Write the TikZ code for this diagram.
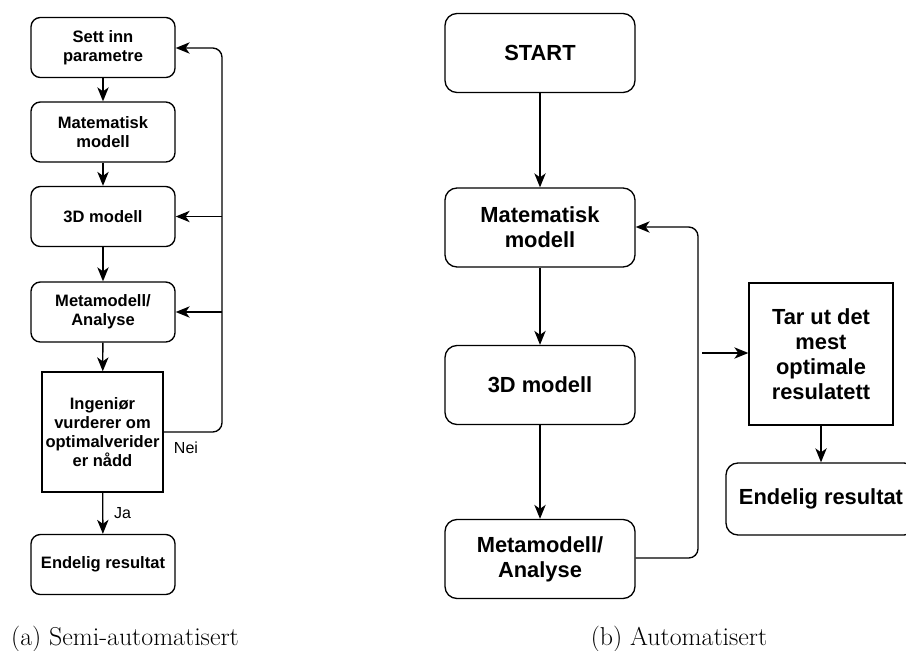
\documentclass[tikz,border=0pt]{standalone}
\usepackage{fontspec}
\setmainfont{Latin Modern Roman}
\newfontfamily\boxfont{Liberation Sans}
\usetikzlibrary{arrows.meta}

\tikzset{
  lbox/.style={draw, line width=1pt, rounded corners=7pt, minimum width=144*0.75pt,
    minimum height=60*0.75pt, align=center, inner sep=0pt,
    font=\boxfont\bfseries\fontsize{12.4}{14.2}\selectfont},
  lsq/.style={lbox, sharp corners, minimum width=121*0.75pt, minimum height=120*0.75pt},
  rbox/.style={draw, line width=1pt, rounded corners=9pt, minimum width=190*0.75pt,
    minimum height=79*0.75pt, align=center, inner sep=0pt,
    font=\boxfont\bfseries\fontsize{16.4}{18.6}\selectfont},
  rsq/.style={rbox, sharp corners, minimum width=144*0.75pt, minimum height=142*0.75pt},
  flow/.style={line width=1pt, -{Stealth[length=10.5pt, width=8.5pt, inset=3pt]}},
  link/.style={line width=1pt, rounded corners=7pt},
  lbl/.style={font=\boxfont\fontsize{12}{14}\selectfont, inner sep=0pt},
  subcap/.style={font=\fontsize{19.4}{21}\selectfont, anchor=base, inner sep=0pt}
}

\begin{document}
\begin{tikzpicture}[x=0.75pt, y=-0.75pt]
  \useasboundingbox (0,0) rectangle (906,650);

  % (a) semi-automatic loop
  \node[lbox] (a1) at (103,47.5) {Sett inn\\parametre};
  \node[lbox] (a2) at (103,132) {Matematisk\\modell};
  \node[lbox] (a3) at (103,216.5) {3D modell};
  \node[lbox] (a4) at (103,312) {Metamodell/\\Analyse};
  \node[lsq]  (a5) at (102.5,432) {Ingeniør\\vurderer om\\optimalverider\\er nådd};
  \node[lbox] (a6) at (103,564.5) {Endelig resultat};

  \draw[flow] (a1) -- (a2);
  \draw[flow] (a2) -- (a3);
  \draw[flow] (a3) -- (a4);
  \draw[flow] (a4) -- (a5);
  \draw[flow] (a5) -- node[lbl, right=8pt, pos=0.5] {Ja} (a6);

  \coordinate (abus3) at (222,216.5);
  \coordinate (abus4) at (222,312);
  \draw[flow, link] (a5.east) -| (222,48) -- (a1.east |- 0,48);
  \draw[flow] (abus3) -- (a3.east);
  \draw[flow] (abus4) -- (a4.east);
  \node[lbl] (nei) at (186,448) {Nei};

  \node[subcap] (capa) at (125,645) {(a) Semi-automatisert};

  % (b) automatic loop
  \node[rbox] (b1) at (540,53) {START};
  \node[rbox] (b2) at (540,227.5) {Matematisk\\modell};
  \node[rbox] (b3) at (540,385) {3D modell};
  \node[rbox] (b4) at (540,559) {Metamodell/\\Analyse};
  \node[rsq]  (b5) at (821,354) {Tar ut det\\mest\\optimale\\resulatett};
  \node[rbox, minimum height=72*0.75pt] (b6) at (821,499) {Endelig resultat};

  \draw[flow] (b1) -- (b2);
  \draw[flow] (b2) -- (b3);
  \draw[flow] (b3) -- (b4);
  \draw[flow, link] (b4.east |- 0,558) -| (698,227) -- (b2.east |- 0,227);

  \coordinate (bsplit) at (702,353);
  \draw[flow] (bsplit) -- (b5.west |- bsplit);
  \draw[flow] (b5) -- (b6);

  \node[subcap] (capb) at (679,645) {(b) Automatisert};
\end{tikzpicture}
\end{document}
